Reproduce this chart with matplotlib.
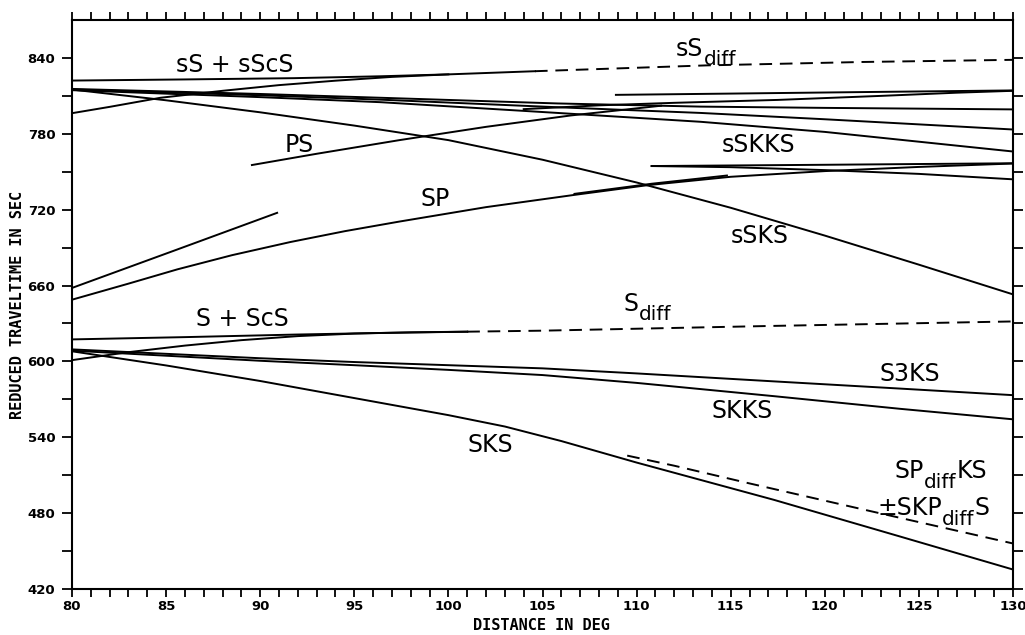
import matplotlib
matplotlib.use("Agg")
import matplotlib.pyplot as plt
from matplotlib.ticker import MultipleLocator, FixedLocator

# ---- travel-time branches (distance in deg, reduced time in s) ----
sScS_d = [80, 86, 91.8, 96.4, 100, 104.6]
sScS_t = [822.1, 823.0, 824.0, 825.5, 827.0, 829.5]
sSdiff_d = [104.6, 113.7, 122, 130]
sSdiff_t = [829.5, 834.1, 836.8, 838.5]
sS_d = [80, 82, 84.7, 88, 91, 94, 97, 100]
sS_t = [796.3, 801.3, 808.5, 814.0, 818.5, 822.0, 825.0, 827.0]

sSKS_d = [80, 85, 90, 95, 100, 105, 110, 115, 120, 125, 130]
sSKS_t = [815, 806.5, 797, 786.5, 775, 759.5, 741.5, 721.5, 699.5, 676.5, 653]
sS4KS_d = [80, 90, 96.4, 105.8, 113.4, 120, 130]
sS4KS_t = [815.5, 811.5, 808.5, 804.0, 801.5, 800.5, 799.3]
sS3KS_d = [80, 90, 96.4, 105.8, 113.4, 120, 130]
sS3KS_t = [815.0, 810.5, 807.0, 801.0, 796.5, 791.5, 783.4]
sSKKS_d = [80, 90, 96.4, 105.8, 113.4, 120, 130]
sSKKS_t = [814.5, 809.0, 805.0, 796.5, 789.5, 781.5, 766.0]

upA_d = [108.9, 115, 122, 130]
upA_t = [810.8, 811.8, 813.0, 814.3]
upR_d = [104, 108, 112, 117.5, 123, 127, 130]
upR_t = [799.5, 802.5, 804.5, 806.8, 810.0, 812.5, 814.0]

PS_d = [89.56, 93, 97.4, 102, 106.5, 111.3]
PS_t = [755.3, 764.2, 775.0, 785.5, 794.5, 802.2]

SP_d = [80, 83, 85.6, 88.5, 91.6, 94.5, 97.4, 102, 106.7, 110.6, 115, 120, 125, 130]
SP_t = [648.8, 661.5, 672.8, 684.0, 694.4, 703.0, 710.6, 722.0, 731.7, 739.4,
        746.0, 750.5, 753.8, 756.5]
SPb1_d = [80, 85.5, 90.9]
SPb1_t = [658.1, 688.0, 717.5]
SPb2_d = [106.7, 110.8, 114.8]
SPb2_t = [732.5, 740.5, 747.0]
lowB_d = [110.8, 120, 130]
lowB_t = [754.5, 755.5, 756.7]
lowB2_d = [110.8, 115, 120.2, 125, 130]
lowB2_t = [754.5, 753.6, 751.2, 748.3, 744.0]

ScS_d = [80, 86, 91.8, 96, 101]
ScS_t = [617.4, 619.2, 621.2, 622.4, 623.5]
Sdiff_d = [101, 105, 117, 130]
Sdiff_t = [623.5, 624.3, 628.0, 631.6]
S_d = [80, 83, 86, 89, 92, 95, 98, 101]
S_t = [601.0, 607.3, 612.5, 616.8, 620.0, 622.0, 623.0, 623.5]

SKS_d = [80, 85, 90, 95, 100, 103, 106, 110, 117.3, 124, 130]
SKS_t = [608.0, 596.8, 584.5, 571.0, 557.5, 548.5, 537.0, 520.0, 490.5, 461.5, 435.4]
SKKS_d = [80, 85, 90, 95, 100, 105, 110, 117.3, 124, 130]
SKKS_t = [608.5, 604.5, 600.5, 597.0, 593.3, 589.2, 583.0, 572.5, 562.5, 554.2]
S3KS_d = [80, 85, 90, 95, 100, 105, 110, 117.3, 124, 130]
S3KS_t = [609.5, 606.0, 602.5, 599.5, 597.0, 594.5, 590.5, 584.2, 578.5, 573.3]
SPdKS_d = [109.5, 112, 116, 122.6, 130]
SPdKS_t = [525.5, 517.5, 503.5, 481.0, 456.0]

solid = [(sScS_d, sScS_t), (sS_d, sS_t), (sSKS_d, sSKS_t), (sS4KS_d, sS4KS_t),
         (sS3KS_d, sS3KS_t), (sSKKS_d, sSKKS_t), (upA_d, upA_t), (upR_d, upR_t),
         (PS_d, PS_t), (SP_d, SP_t), (SPb1_d, SPb1_t), (SPb2_d, SPb2_t),
         (lowB_d, lowB_t), (lowB2_d, lowB2_t), (ScS_d, ScS_t), (S_d, S_t),
         (SKS_d, SKS_t), (SKKS_d, SKKS_t), (S3KS_d, S3KS_t)]
dashed = [(sSdiff_d, sSdiff_t), (Sdiff_d, Sdiff_t), (SPdKS_d, SPdKS_t)]

# phase labels: (deg, time, [(text, is_subscript), ...])
labels = [
    (85.5, 829.2, [("sS + sScS", False)]),
    (112.1, 841.8, [("sS", False), ("diff", True)]),
    (91.3, 765.7, [("PS", False)]),
    (98.5, 722.8, [("SP", False)]),
    (114.5, 765.4, [("sSKKS", False)]),
    (115.0, 694.0, [("sSKS", False)]),
    (86.6, 628.1, [("S + ScS", False)]),
    (109.3, 640.1, [("S", False), ("diff", True)]),
    (122.9, 584.3, [("S3KS", False)]),
    (114.0, 554.9, [("SKKS", False)]),
    (101.0, 528.0, [("SKS", False)]),
    (123.7, 507.6, [("SP", False), ("diff", True), ("KS", False)]),
    (122.8, 478.2, [("\u00b1SKP", False), ("diff", True), ("S", False)]),
]

fig = plt.figure(figsize=(10.25, 6.35), dpi=100)
ax = fig.add_axes([72 / 1025, 46 / 635, 941 / 1025, 569 / 635])

for d, t in solid:
    ax.plot(d, t, color="black", lw=1.4)
for d, t in dashed:
    ax.plot(d, t, color="black", lw=1.4, dashes=(6.5, 4))

ax.set_xlim(80, 130)
ax.set_ylim(420, 870)
ax.xaxis.set_major_locator(MultipleLocator(5))
ax.xaxis.set_minor_locator(MultipleLocator(1))
ax.yaxis.set_major_locator(MultipleLocator(60))
ax.yaxis.set_minor_locator(FixedLocator(list(range(450, 840, 60))))
ax.tick_params(axis="x", which="both", direction="out", length=6, width=1.3,
               top=True, pad=2)
ax.tick_params(axis="y", which="both", direction="out", length=7, width=1.3,
               right=True, pad=5)
for lab in ax.get_xticklabels() + ax.get_yticklabels():
    lab.set_fontweight("bold")
    lab.set_fontsize(9.5)
for sp in ax.spines.values():
    sp.set_linewidth(1.5)

MAIN = 17
SUB = 14.5
for x, y, parts in labels:
    prev = ax.text(x, y, parts[0][0], fontsize=MAIN, ha="left", va="baseline")
    prev_sub = parts[0][1]
    for txt, sub in parts[1:]:
        if sub:
            dy = -6
        elif prev_sub:
            dy = 6
        else:
            dy = 0
        prev = ax.annotate(txt, xy=(1, 0), xycoords=prev, xytext=(0, dy),
                           textcoords="offset points", ha="left", va="bottom",
                           fontsize=SUB if sub else MAIN)
        prev_sub = sub

fig.text(18 / 1025, 1 - 305 / 635, "REDUCED TRAVELTIME IN SEC", rotation=90,
         ha="center", va="center", family="DejaVu Sans Mono", weight="bold", size=11)
fig.text(541.5 / 1025, 1 - 626 / 635, "DISTANCE IN DEG",
         ha="center", va="center", family="DejaVu Sans Mono", weight="bold", size=11)

fig.savefig("out.png", dpi=100)
